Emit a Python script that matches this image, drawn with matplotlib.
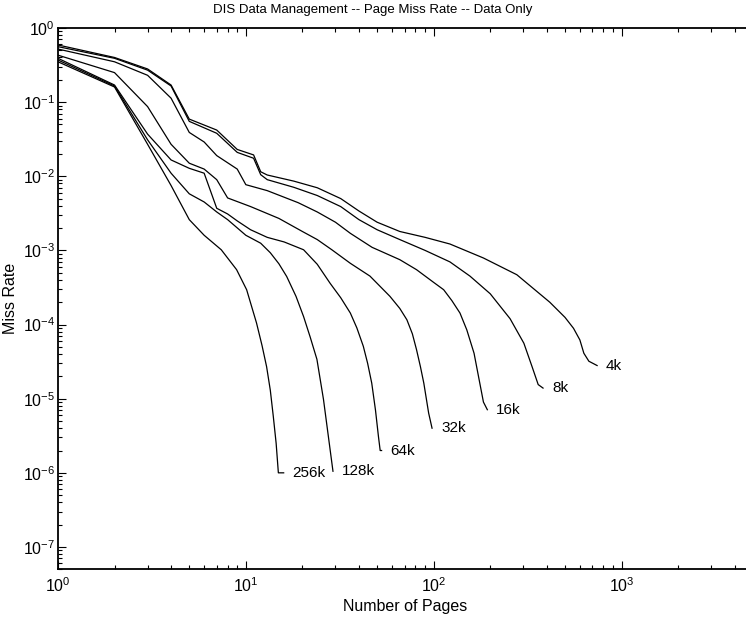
import matplotlib
matplotlib.use("Agg")
import matplotlib.pyplot as plt
from matplotlib.ticker import LogLocator, NullFormatter

plt.rcParams['font.family'] = ['Liberation Sans', 'DejaVu Sans']
plt.rcParams['mathtext.fontset'] = 'custom'
plt.rcParams['mathtext.rm'] = 'Liberation Sans'

# page size labels
labels = ['4k', '8k', '16k', '32k', '64k', '128k', '256k']

pages_4k = [1, 2, 3, 4, 5, 7, 9, 11, 12, 13, 18, 24, 32, 40, 50, 66, 90, 122, 184, 277, 415, 500, 555, 600, 630, 670, 741]
miss_4k = [0.59, 0.40, 0.28, 0.17, 0.059, 0.042, 0.023, 0.0194, 0.0115, 0.0104, 0.0086, 0.0070, 0.0050, 0.0034,
           0.0024, 0.0018, 0.0015, 0.00122, 7.9e-4, 4.7e-4, 2.0e-4, 1.25e-4, 8.9e-5, 6.2e-5, 4.1e-5, 3.2e-5, 2.8e-5]

pages_8k = [1, 2, 3, 4, 5, 7, 9, 11, 12, 13, 18, 24, 32, 40, 50, 66, 90, 122, 156, 200, 255, 302, 334, 360, 382]
miss_8k = [0.56, 0.39, 0.27, 0.165, 0.055, 0.038, 0.021, 0.0175, 0.0105, 0.009, 0.0071, 0.0055, 0.0039, 0.0026,
           0.0019, 0.0014, 0.001, 7e-4, 4.5e-4, 2.6e-4, 1.2e-4, 5.6e-5, 2.7e-5, 1.55e-5, 1.39e-5]

pages_16k = [1, 2, 3, 4, 5, 6, 7, 9, 10, 13, 19, 24, 30, 36, 47, 66, 81, 100, 113, 125, 138, 150, 164, 177, 184, 193]
miss_16k = [0.52, 0.35, 0.23, 0.113, 0.039, 0.029, 0.019, 0.0125, 0.0077, 0.0064, 0.0044, 0.0033, 0.0024, 0.0017,
            0.0011, 7.5e-4, 5.5e-4, 3.7e-4, 2.95e-4, 2.1e-4, 1.43e-4, 8.5e-5, 4.1e-5, 1.5e-5, 9e-6, 7.1e-6]

pages_32k = [1, 2, 3, 4, 5, 6, 7, 8, 10.6, 15, 20, 24, 28.7, 36, 45.8, 58.5, 66, 72, 77, 81, 85, 88.6, 94, 98]
miss_32k = [0.43, 0.25, 0.087, 0.027, 0.015, 0.0125, 0.009, 0.0051, 0.0039, 0.0027, 0.0018, 0.0014, 0.00102,
            6.7e-4, 4.5e-4, 2.4e-4, 1.65e-4, 1.16e-4, 7.5e-5, 4.6e-5, 2.7e-5, 1.62e-5, 6.4e-6, 4e-6]

pages_64k = [1, 2, 3, 4, 5, 6, 7, 8, 9, 10.6, 13, 16, 20.3, 24, 28.1, 32, 36, 39, 42.2, 44.5, 46.8, 49, 50.8, 51.9, 52.8]
miss_64k = [0.39, 0.17, 0.037, 0.0166, 0.0128, 0.011, 0.0037, 0.0031, 0.0025, 0.0019, 0.0015, 0.0013, 0.00102,
            6.5e-4, 3.6e-4, 2.3e-4, 1.43e-4, 9e-5, 5.1e-5, 3e-5, 1.62e-5, 7e-6, 3.1e-6, 2e-6, 2e-6]

pages_128k = [1, 2, 3, 4, 5, 6, 7, 8, 10, 12, 13.5, 15, 16.5, 18.5, 20.3, 22, 23.9, 25.9, 27.5, 29.1]
miss_128k = [0.37, 0.165, 0.031, 0.011, 0.0058, 0.0045, 0.0033, 0.0026, 0.0016, 0.00125, 9.3e-4, 6.6e-4, 4.45e-4,
             2.4e-4, 1.28e-4, 6.8e-5, 3.4e-5, 9.8e-6, 3.1e-6, 1.05e-6]

pages_256k = [1, 2, 3, 4, 5, 6, 7.4, 8.93, 10.1, 11.4, 12.2, 12.9, 13.5, 14, 14.5, 14.9, 15.9]
miss_256k = [0.35, 0.16, 0.027, 0.0075, 0.0026, 0.0016, 0.00102, 5.5e-4, 2.95e-4, 1.05e-4, 5.2e-5, 2.7e-5,
             1.3e-5, 5.8e-6, 2.5e-6, 1e-6, 1e-6]

curves = [(pages_4k, miss_4k), (pages_8k, miss_8k), (pages_16k, miss_16k), (pages_32k, miss_32k),
          (pages_64k, miss_64k), (pages_128k, miss_128k), (pages_256k, miss_256k)]

fig = plt.figure(figsize=(7.46, 6.19), dpi=100)
# right spine sits just past the image edge, as in the original
ax = fig.add_axes([0.0777, 0.0803, 0.9315, 0.8745])

for (px, py), lab in zip(curves, labels):
    ax.plot(px, py, color='black', lw=0.9)
    ax.annotate(lab, (px[-1], py[-1]), xytext=(9, 0), textcoords='offset pixels',
                va='center', ha='left', fontsize=11)

ax.set_xscale('log')
ax.set_yscale('log')
ax.set_xlim(1, 5000)
ax.set_ylim(5e-8, 1)

ax.set_yticks([1e-7, 1e-6, 1e-5, 1e-4, 1e-3, 1e-2, 1e-1, 1])
ax.set_xticks([1, 10, 100, 1000])
ax.yaxis.set_minor_locator(LogLocator(base=10, subs=range(2, 10), numticks=20))
ax.yaxis.set_minor_formatter(NullFormatter())
ax.xaxis.set_minor_formatter(NullFormatter())
ax.set_xlim(1, 5000)
ax.set_ylim(5e-8, 1)

ax.tick_params(which='both', direction='in', top=True, right=False, labelsize=11.5, width=0.8)
ax.tick_params(which='major', length=6)
ax.tick_params(axis='y', which='major', pad=2)
ax.tick_params(axis='x', which='major', pad=5)
ax.tick_params(which='minor', length=3)
for s in ax.spines.values():
    s.set_linewidth(1.3)

ax.set_xlabel('Number of Pages', fontsize=11.5, labelpad=3)
ax.set_ylabel('Miss Rate', fontsize=11.5)
ax.yaxis.set_label_coords(-0.058, 0.5)
fig.suptitle('DIS Data Management -- Page Miss Rate -- Data Only', x=0.5, y=0.993, va='top', fontsize=9.5)

fig.savefig('out.png', dpi=100)
